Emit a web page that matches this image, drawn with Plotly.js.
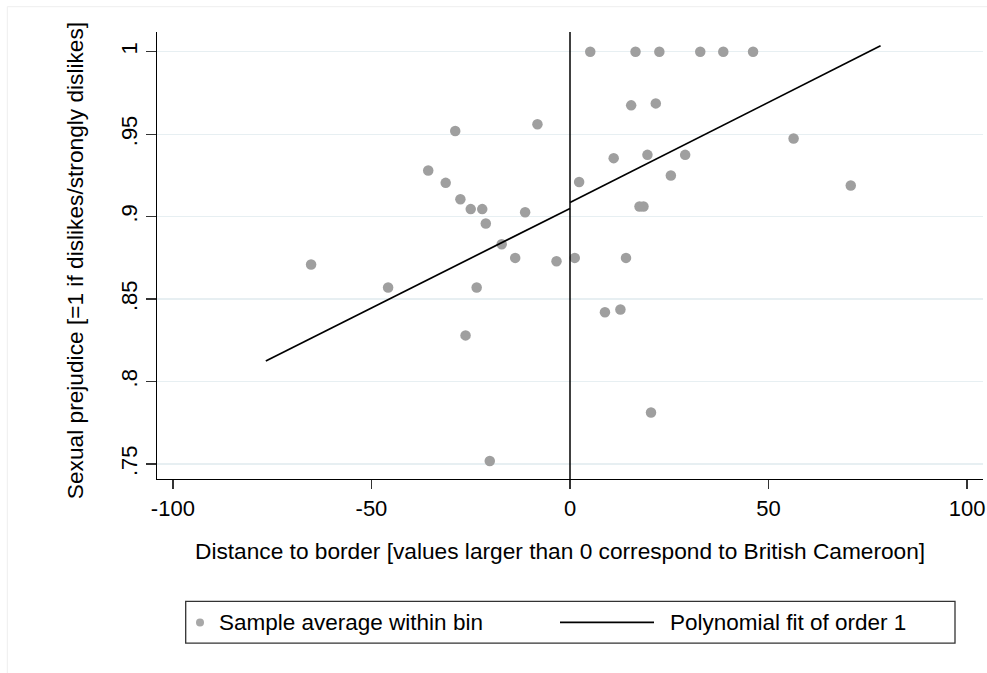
<!DOCTYPE html>
<html>
<head>
<meta charset="utf-8">
<script src="https://cdn.plot.ly/plotly-3.0.1.min.js"></script>
<style>html,body{margin:0;padding:0;background:#fff;}#chart{width:987px;height:673px;}</style>
</head>
<body>
<div id="chart"></div>
<script>
// Bin averages (distance to border, sexual prejudice)
const binX = [-65.2, -45.8, -35.7, -31.3, -28.9, -27.6, -26.3, -25.0, -23.5, -22.1, -21.2, -20.2, -17.2, -13.8, -11.3, -8.2, -3.4,
              1.2, 2.3, 5.1, 8.8, 11.0, 12.7, 14.1, 15.4, 16.5, 17.5, 18.5, 19.5, 20.4, 21.6, 22.5, 25.4, 29.0, 32.8, 38.6, 46.1, 56.3, 70.7];
const binY = [0.871, 0.857, 0.928, 0.9205, 0.952, 0.9106, 0.828, 0.9046, 0.857, 0.9046, 0.8959, 0.7518, 0.8833, 0.875, 0.9027, 0.956, 0.873,
              0.875, 0.921, 1.0, 0.842, 0.9355, 0.8437, 0.875, 0.9675, 1.0, 0.9062, 0.9062, 0.9375, 0.7812, 0.9687, 1.0, 0.925, 0.9375, 1.0, 1.0, 1.0, 0.9474, 0.9189];
// Linear fits on each side of the border
const fitLeftX = [-76.6, 0];
const fitLeftY = [0.8125, 0.905];
const fitRightX = [0, 78.2];
const fitRightY = [0.9086, 1.0036];
const xTicks = [-100, -50, 0, 50, 100];
const xTickText = ['-100', '-50', '0', '50', '100'];
const yTicks = [0.75, 0.8, 0.85, 0.9, 0.95, 1];
const yTickText = ['.75', '.8', '.85', '.9', '.95', '1'];
const xTitle = 'Distance to border [values larger than 0 correspond to British Cameroon]';
const yTitle = 'Sexual prejudice [=1 if dislikes/strongly dislikes]';
const legendLabels = ['Sample average within bin', 'Polynomial fit of order 1'];

const W = 987, H = 673;
const L = 157, R = 983, T = 32, B = 478.7;
const px = v => (v - L) / (R - L);
const py = v => (B - v) / (B - T);
const FONT = '"Liberation Sans", Arial, sans-serif';

const traces = [
  {x: binX, y: binY, type: 'scatter', mode: 'markers', name: legendLabels[0],
   marker: {color: '#9f9f9f', size: 10.5}, hoverinfo: 'x+y'},
  {x: fitLeftX, y: fitLeftY, type: 'scatter', mode: 'lines', name: legendLabels[1],
   line: {color: '#000', width: 1.7}},
  {x: fitRightX, y: fitRightY, type: 'scatter', mode: 'lines', name: legendLabels[1],
   line: {color: '#000', width: 1.7}}
];

const layout = {
  width: W, height: H,
  margin: {l: L, r: W - R, t: T, b: H - B, pad: 0},
  paper_bgcolor: '#fff', plot_bgcolor: '#fff',
  showlegend: false,
  font: {family: FONT, color: '#000'},
  xaxis: {
    range: [-104, 104], tickvals: xTicks, ticktext: xTickText,
    showgrid: false, zeroline: false,
    showline: true, linecolor: '#000', linewidth: 1.3,
    ticks: 'outside', ticklen: 9, tickwidth: 1.3, tickcolor: '#333',
    tickfont: {size: 22, family: FONT, color: '#000'},
    automargin: false
  },
  yaxis: {
    range: [0.7409, 1.012], tickvals: yTicks, ticktext: yTickText,
    showgrid: true, gridcolor: '#e7eff2', gridwidth: 1.3, zeroline: false,
    showline: true, linecolor: '#000', linewidth: 1.3,
    ticks: 'outside', ticklen: 10, tickwidth: 1.3, tickcolor: '#333',
    tickangle: -90,
    tickfont: {size: 22, family: FONT, color: '#000'},
    automargin: false
  },
  shapes: [
    // reference line at the border
    {type: 'line', xref: 'x', yref: 'paper', x0: 0, x1: 0, y0: 0, y1: 1,
     line: {color: '#000', width: 1.5}},
    // outer graph region border
    {type: 'rect', xref: 'paper', yref: 'paper', x0: px(7.3), x1: px(1000), y0: py(700), y1: py(6.7),
     line: {color: '#eeeeee', width: 1}, layer: 'below'},
    // legend box
    {type: 'rect', xref: 'paper', yref: 'paper', x0: px(185.7), x1: px(955), y0: py(642.7), y1: py(601),
     line: {color: '#333', width: 1.3}},
    // legend line sample
    {type: 'line', xref: 'paper', yref: 'paper', x0: px(560), x1: px(654), y0: py(622), y1: py(622),
     line: {color: '#000', width: 1.7}},
    // legend marker sample
    {type: 'circle', xref: 'paper', yref: 'paper', x0: px(196), x1: px(204), y0: py(626), y1: py(618),
     fillcolor: '#a8a8a8', line: {width: 0}}
  ],
  annotations: [
    {xref: 'paper', yref: 'paper', x: px(560), y: py(551), xanchor: 'center', yanchor: 'middle',
     text: xTitle, showarrow: false, font: {size: 22.7, family: FONT, color: '#000'}},
    {xref: 'paper', yref: 'paper', x: px(75), y: py(261), xanchor: 'center', yanchor: 'middle',
     text: yTitle, textangle: -90, showarrow: false, font: {size: 22.7, family: FONT, color: '#000'}},
    {xref: 'paper', yref: 'paper', x: px(217), y: py(622), xanchor: 'left', yanchor: 'middle',
     text: legendLabels[0], showarrow: false, font: {size: 22.5, family: FONT, color: '#000'}},
    {xref: 'paper', yref: 'paper', x: px(668), y: py(622), xanchor: 'left', yanchor: 'middle',
     text: legendLabels[1], showarrow: false, font: {size: 22.5, family: FONT, color: '#000'}}
  ]
};

Plotly.newPlot('chart', traces, layout, {displayModeBar: false, staticPlot: true});
</script>
</body>
</html>
